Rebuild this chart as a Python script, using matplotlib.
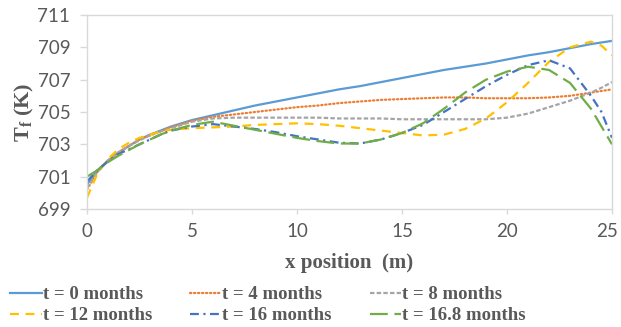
import matplotlib
matplotlib.use("Agg")
import matplotlib.pyplot as plt
import matplotlib.transforms as mtransforms

# ---- data ----
x_pos = [0, 0.5, 1, 1.5, 2, 2.5, 3, 3.5, 4, 5, 6, 7, 8, 9, 10, 11, 12, 13, 14, 15,
         16, 17, 18, 19, 20, 21, 22, 23, 24, 24.5, 25]

t0 = [700.5, 701.4, 702.0, 702.5, 702.9, 703.3, 703.6, 703.85, 704.1, 704.5, 704.8, 705.1,
      705.4, 705.65, 705.9, 706.15, 706.4, 706.6, 706.85, 707.1, 707.35, 707.6, 707.8,
      708.0, 708.25, 708.5, 708.7, 708.95, 709.2, 709.3, 709.4]
t4 = [700.2, 701.3, 702.0, 702.5, 702.9, 703.3, 703.55, 703.8, 704.05, 704.45, 704.7, 704.85,
      705.0, 705.15, 705.3, 705.4, 705.55, 705.65, 705.75, 705.8, 705.85, 705.9, 705.9,
      705.85, 705.85, 705.85, 705.9, 706.0, 706.2, 706.3, 706.4]
t8 = [700.3, 701.3, 702.0, 702.5, 702.9, 703.25, 703.55, 703.8, 704.0, 704.4, 704.6, 704.65,
      704.65, 704.65, 704.65, 704.65, 704.6, 704.6, 704.6, 704.55, 704.55, 704.55, 704.55,
      704.55, 704.65, 704.9, 705.3, 705.7, 706.2, 706.5, 706.85]
t12 = [699.7, 701.2, 702.1, 702.7, 703.1, 703.4, 703.6, 703.8, 703.9, 704.0, 704.05, 704.1,
       704.2, 704.25, 704.3, 704.25, 704.15, 704.0, 703.85, 703.7, 703.55, 703.6, 703.95,
       704.6, 705.6, 706.8, 708.1, 709.0, 709.35, 709.1, 708.5]
t16 = [700.7, 701.4, 701.95, 702.4, 702.7, 703.0, 703.3, 703.6, 703.85, 704.1, 704.25, 704.1,
       703.95, 703.75, 703.5, 703.3, 703.1, 703.05, 703.3, 703.7, 704.2, 705.0, 705.8,
       706.6, 707.3, 707.9, 708.2, 707.7, 706.0, 705.0, 703.4]
t168 = [701.0, 701.4, 701.9, 702.3, 702.65, 703.0, 703.3, 703.6, 703.85, 704.2, 704.4, 704.15,
        703.9, 703.65, 703.4, 703.2, 703.05, 703.05, 703.3, 703.7, 704.3, 705.2, 706.2,
        707.0, 707.5, 707.8, 707.6, 706.8, 705.2, 704.1, 703.0]

labels = ["t = 0 months", "t = 4 months", "t = 8 months",
          "t = 12 months", "t = 16 months", "t = 16.8 months"]
series = [t0, t4, t8, t12, t16, t168]
colors = ["#5B9BD5", "#ED7D31", "#A5A5A5", "#FFC000", "#4472C4", "#70AD47"]
styles = ["-", (0, (0.6, 1.2)), (0, (2, 1)), (0, (4, 3)), (0, (4, 2, 1, 2)), (0, (8, 3))]

x_ticks = [0, 5, 10, 15, 20, 25]
y_ticks = [699, 701, 703, 705, 707, 709, 711]

plt.rcParams['mathtext.fontset'] = 'custom'
plt.rcParams['mathtext.rm'] = 'Liberation Serif:bold'
plt.rcParams['mathtext.bf'] = 'Liberation Serif:bold'
plt.rcParams['mathtext.it'] = 'Liberation Serif:bold'

fig = plt.figure(figsize=(6.21, 3.27), dpi=100)
ax = fig.add_axes([87/621, 1-209/327, 525/621, 194/327])

handles = []
for y, lab, c, ls in zip(series, labels, colors, styles):
    cap = 'round' if lab == "t = 4 months" else 'butt'
    h, = ax.plot(x_pos, y, color=c, linestyle=ls, lw=1.6, label=lab,
                 dash_capstyle=cap)
    handles.append(h)

ax.set_xlim(0, 25)
ax.set_ylim(699, 711)
ax.set_xticks(x_ticks)
ax.set_yticks(y_ticks)
grey_txt = "#595959"
ax.tick_params(axis='both', colors="#d9d9d9", labelcolor=grey_txt,
               labelsize=13.5, width=1)
ax.tick_params(axis='y', length=5, pad=7)
ax.tick_params(axis='x', length=3.6, pad=6.5)
for lbl in ax.get_xticklabels() + ax.get_yticklabels():
    lbl.set_family("Lato")
for s in ax.spines.values():
    s.set_color("#d9d9d9")
    s.set_linewidth(1)

# keep the last x tick label inside the figure
last = ax.xaxis.get_major_ticks()[-1].label1
last.set_transform(last.get_transform() +
                   mtransforms.ScaledTranslation(-5/100, 0, fig.dpi_scale_trans))

ax.set_ylabel(r"T$_{\mathrm{f}}$ (K)", family="Liberation Serif", fontweight="bold",
              fontsize=16, color=grey_txt)
ax.yaxis.set_label_coords(-0.097, 0.5)
ax.set_xlabel("x position  (m)", family="Liberation Serif", fontweight="bold",
              fontsize=15, color=grey_txt, labelpad=9)

order = [0, 3, 1, 4, 2, 5]
leg = fig.legend([handles[i] for i in order], [labels[i] for i in order],
                 loc="upper left", bbox_to_anchor=(10/621, 0.125), ncol=3,
                 frameon=False, handlelength=1.7, handletextpad=0.05,
                 columnspacing=2.0, labelspacing=0.2, borderaxespad=0, borderpad=0,
                 prop={"family": "Liberation Serif", "weight": "bold", "size": 13.5})
for t in leg.get_texts():
    t.set_color(grey_txt)

fig.savefig("out.png", dpi=100)
